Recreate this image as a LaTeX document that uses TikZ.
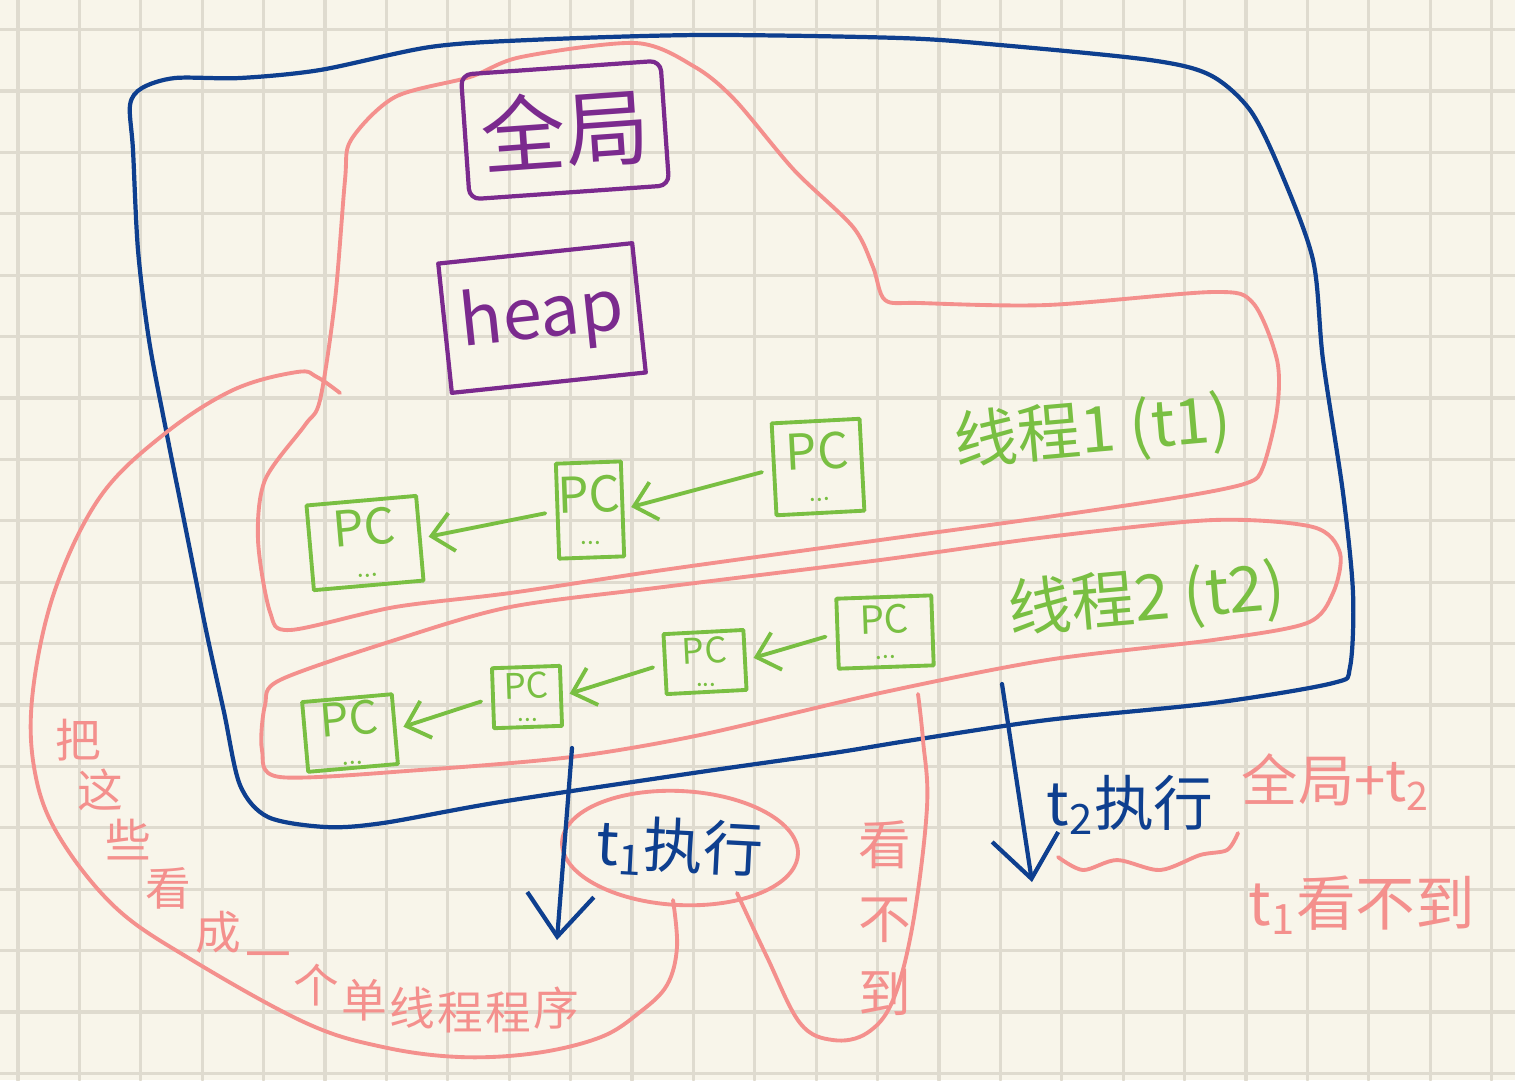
\documentclass[tikz,border=0pt]{standalone}
\usepackage{fontspec}
\usepackage{xcolor}
\usepackage{tikz}
\usetikzlibrary{shapes.geometric,arrows.meta,positioning,calc}
\newfontfamily\hand{Noto Sans CJK SC}
\definecolor{padPaper}{HTML}{F8F5EA}
\definecolor{padGrid}{HTML}{DFDBCF}
\definecolor{padBlue}{HTML}{0E3F8F}
\definecolor{padPink}{HTML}{F4908D}
\definecolor{padPurple}{HTML}{7B2A8E}
\definecolor{padGreen}{HTML}{79BF42}
\newcommand{\pcline}{PC\\[-0.35em]{\scriptsize...}}
\newcommand{\fsz}[1]{\fontsize{#1}{#1}\selectfont}

\begin{document}
\begin{tikzpicture}[
  x=0.1mm, y=-0.1mm,
  font=\hand,
  line cap=round, line join=round,
  every node/.style={align=center},
  gridln/.style ={draw=padGrid,line width=0.9pt},
  shell/.style  ={draw=padBlue,line width=1.2pt},
  blob/.style   ={draw=padPink,line width=1.1pt},
  membox/.style ={rectangle,draw=padPurple,line width=1.2pt,text=padPurple,inner sep=0pt},
  pcbox/.style  ={rectangle,draw=padGreen,line width=1.1pt,text=padGreen,inner sep=0pt,font=\hand\fsz{#1}},
  pcbox/.default=12,
  thrlbl/.style ={text=padGreen,font=\hand\fsz{18}},
  blutxt/.style ={text=padBlue,font=\hand\fsz{17}},
  pnktxt/.style ={text=padPink,font=\hand\fsz{16}},
  capchar/.style={text=padPink,font=\hand\fsz{13},inner sep=0pt},
  loopell/.style={ellipse,draw=padPink,line width=1.1pt,text=padBlue,font=\hand\fsz{17},
                  minimum width=22.6mm,minimum height=11.4mm,inner sep=0pt},
  arrg/.style   ={-{Straight Barb[length=6pt,width=11pt]},draw=padGreen,line width=1.1pt,
                  shorten >=2pt,shorten <=3pt},
  arrb/.style   ={-{Straight Barb[length=12pt,width=19pt]},draw=padBlue,line width=1.2pt}
]
% paper
\useasboundingbox (0,0) rectangle (1515,1080);
\fill[padPaper] (0,0) rectangle (1515,1080);
\foreach \k in {0,...,24} \draw[gridln] ({18+61.4*\k},0) -- ({18+61.4*\k},1080);
\foreach \k in {0,...,17} \draw[gridln] (0,{29.6+61.4*\k}) -- (1515,{29.6+61.4*\k});

% process outline
\draw[shell] plot[smooth cycle,tension=0.5] coordinates {
  (130,105) (142,88) (175,78) (240,78) (320,70) (430,47) (529,40) (700,35) (900,38)
  (1000,45) (1150,60) (1210,75) (1250,110) (1280,170) (1313,260) (1323,360) (1343,493)
  (1353,593) (1350,667) (1333,683) (1213,703) (1047,720) (913,740) (833,753) (700,772)
  (500,802) (383,823) (326,827) (268,817) (240,785) (224,712) (206,630) (186,530)
  (166,430) (149,340) (138,250) (133,150)};

% global + t1
\draw[blob] plot[smooth cycle,tension=0.5] coordinates {
  (351,140) (395,97) (470,77) (521,57) (636,43) (695,67) (735,100) (794,170) (853,227)
  (873,267) (885,300) (920,303) (1047,305) (1213,292) (1253,303) (1277,360) (1277,410)
  (1263,467) (1247,483) (1180,497) (1047,517) (880,540) (663,570) (510,593) (395,607)
  (290,630) (270,612) (258,540) (265,480) (305,425) (320,400) (335,300) (345,180)};

% t2 band
\draw[blob] plot[smooth cycle,tension=0.5] coordinates {
  (880,560) (1047,537) (1213,520) (1313,527) (1340,553) (1333,593) (1307,623)
  (1213,640) (1047,660) (880,693) (700,735) (571,757) (420,770) (280,777) (262,750)
  (265,705) (280,680) (395,640) (510,607) (663,587)};

% memory
\node[membox,minimum width=20mm,minimum height=12.5mm,rotate=4,rounded corners=3pt,
      font=\hand\fsz{24}] (glob) at (565,130) {全局};
\node[membox,minimum width=19.5mm,minimum height=13mm,rotate=6,
      font=\hand\fsz{20}] (heap) at (542,318) {heap};

% thread 1
\node[pcbox=14,minimum width=11mm,minimum height=8.5mm,rotate=5] (pc11) at (365,543) {\pcline};
\node[pcbox=14,minimum width=6.5mm,minimum height=9.5mm,rotate=2] (pc12) at (590,510) {\pcline};
\node[pcbox=14,minimum width=8.8mm,minimum height=9.2mm,rotate=3] (pc13) at (818,467) {\pcline};
\node[thrlbl,rotate=5] (t1lbl) at (1093,432) {线程1 (t1)};
\draw[arrg] (pc13.west) -- (pc12.east);
\draw[arrg] (pc12.west) -- (pc11.east);

% thread 2
\node[pcbox=13,minimum width=9mm,minimum height=7mm,rotate=5] (pc21) at (350,733) {\pcline};
\node[pcbox=10,minimum width=6.8mm,minimum height=6mm,rotate=2] (pc22) at (527,697) {\pcline};
\node[pcbox=10,minimum width=8mm,minimum height=6mm,rotate=3] (pc23) at (705,662) {\pcline};
\node[pcbox=11,minimum width=9.5mm,minimum height=7mm,rotate=2] (pc24) at (885,632) {\pcline};
\node[thrlbl,rotate=5] (t2lbl) at (1147,600) {线程2 (t2)};
\draw[arrg] (pc24.west) -- (pc23.east);
\draw[arrg] (pc23.west) -- (pc22.east);
\draw[arrg] (pc22.west) -- (pc21.east);

% t1 runs
\node[loopell,rotate=-3] (t1run) at (680,848) {t\textsubscript{1}执行};
\coordinate (t1top) at (572,748);
\coordinate (t1bot) at (557,940);
\draw[arrb] (t1top) -- (t1bot);
\draw[blob] plot[smooth,tension=0.6] coordinates {
  (340,393) (317,377) (297,372) (233,390) (163,435) (100,497) (55,590) (33,690)
  (34,767) (57,833) (115,907) (192,960) (306,1023) (383,1047) (460,1057) (536,1053)
  (601,1037) (640,1012) (667,985) (677,947) (673,900)};
\draw[blob] plot[smooth,tension=0.6] coordinates {
  (737,893) (767,957) (800,1023) (833,1040) (867,1033) (893,1000) (913,923) (927,807)
  (923,740) (918,694)};
\node[pnktxt,inner sep=0pt,font=\hand\fontsize{15}{21}\selectfont] (nosee) at (885,918) {看\\不\\到};
\foreach \ch/\px/\py [count=\n] in {把/78/740,这/100/790,些/128/840,看/168/888,
    成/218/932,一/268/962,个/316/985,单/364/1000,线/412/1008,程/460/1012,
    程/508/1012,序/556/1008}
  \node[capchar] (cap\n) at (\px,\py) {\ch};

% t2 runs
\coordinate (t2top) at (1002,684);
\coordinate (t2bot) at (1032,882);
\draw[arrb] (t2top) -- (t2bot);
\node[blutxt] (t2run) at (1130,805) {t\textsubscript{2}执行};
\draw[blob] plot[smooth] coordinates {
  (1058,857) (1083,870) (1117,860) (1160,870) (1200,855) (1227,850) (1238,833)};
\node[pnktxt] (seeall) at (1336,782) {全局+t\textsubscript{2}};
\node[pnktxt,font=\hand\fsz{17}] (cantsee) at (1362,905) {t\textsubscript{1}看不到};
\end{tikzpicture}
\end{document}
